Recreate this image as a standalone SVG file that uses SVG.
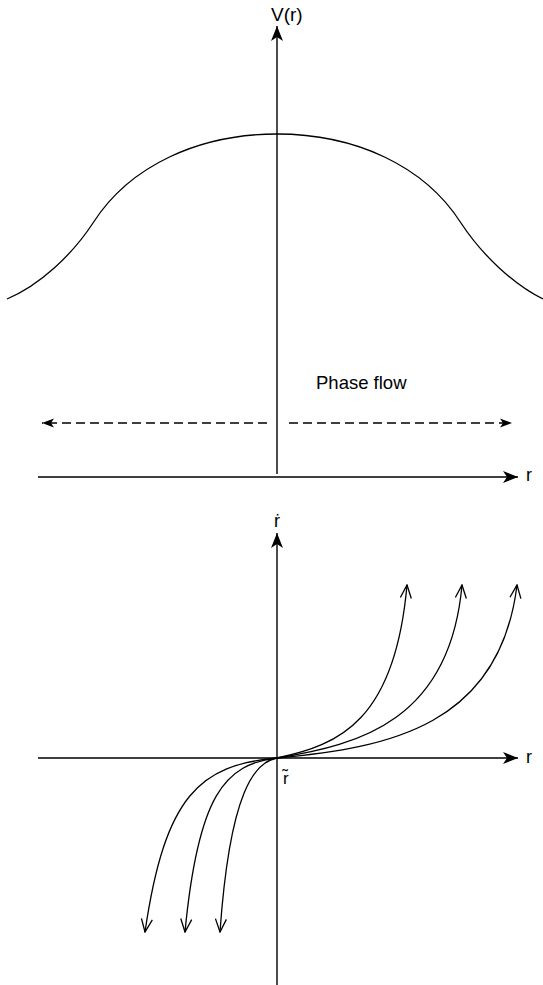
<svg xmlns="http://www.w3.org/2000/svg" width="543" height="985" viewBox="0 0 543 985">
<style>
.ax{stroke:#000;stroke-width:1.4;fill:none}
.cv{stroke:#000;stroke-width:1.3;fill:none}
.ds{stroke:#000;stroke-width:1.3;fill:none;stroke-dasharray:9 5}
text{font-family:"Liberation Sans",Arial,sans-serif;fill:#000}
</style>
<defs>
<marker id="ah" viewBox="-16 -7 17 14" markerWidth="17" markerHeight="14" refX="0" refY="0" orient="auto" markerUnits="userSpaceOnUse">
<path d="M0,0 L-15,-6 L-11,0 L-15,6 Z" fill="#000"/>
</marker>
<marker id="ahs" viewBox="-13 -6 14 12" markerWidth="14" markerHeight="12" refX="0" refY="0" orient="auto" markerUnits="userSpaceOnUse">
<path d="M0,0 L-12,-4.5 L-9,0 L-12,4.5 Z" fill="#000"/>
</marker>
<marker id="oa" viewBox="-14 -7 15 14" markerWidth="15" markerHeight="14" refX="0" refY="0" orient="auto" markerUnits="userSpaceOnUse">
<path d="M-13,-5.5 L0,0 L-13,5.5" fill="none" stroke="#000" stroke-width="1.3"/>
</marker>
</defs>
<g id="top-plot">
<g id="axes-top">
<line class="ax" x1="277" y1="474" x2="277" y2="26" marker-end="url(#ah)"/>
<line class="ax" x1="38" y1="477" x2="518" y2="477" marker-end="url(#ah)"/>
<text x="271" y="21" font-size="19">V(r)</text>
<text x="526" y="481" font-size="18">r</text>
</g>
<g id="potential">
<path class="cv" d="M7,299 C40,285 72,255 93,223 C130,165 200,134 277,134 C354,134 424,165 461,223 C482,255 514,285 543,299"/>
</g>
<g id="phase-flow">
<text x="316" y="389" font-size="18.5">Phase flow</text>
<line class="ds" x1="267" y1="423" x2="42" y2="423" marker-end="url(#ahs)"/>
<line class="ds" x1="289" y1="423" x2="512" y2="423" marker-end="url(#ahs)"/>
</g>
</g>
<g id="bottom-plot">
<g id="axes-bottom">
<line class="ax" x1="277" y1="985" x2="277" y2="533" marker-end="url(#ah)"/>
<line class="ax" x1="38" y1="758" x2="518" y2="758" marker-end="url(#ah)"/>
<text x="274" y="527" font-size="18">ṙ</text>
<text x="526" y="763" font-size="18">r</text>
<text x="283" y="784" font-size="17">r̃</text>
</g>
<g id="trajectories">
<path class="cv" d="M277,758 C340,745 395,720 407,585" marker-end="url(#oa)"/>
<path class="cv" d="M277,758 C360,745 450,720 462,585" marker-end="url(#oa)"/>
<path class="cv" d="M277,758 C390,748 500,725 517,585" marker-end="url(#oa)"/>
<path class="cv" d="M277,758 C200,765 165,795 145,932" marker-end="url(#oa)"/>
<path class="cv" d="M277,758 C225,764 198,795 185,932" marker-end="url(#oa)"/>
<path class="cv" d="M277,758 C255,762 230,790 220,932" marker-end="url(#oa)"/>
</g>
</g>
</svg>
